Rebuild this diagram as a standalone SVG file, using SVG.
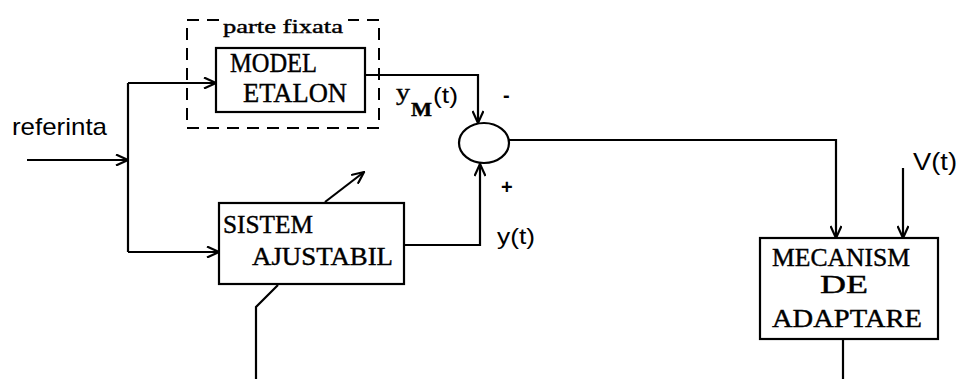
<svg xmlns="http://www.w3.org/2000/svg" width="958" height="379" viewBox="0 0 958 379">
<style>
.ln{fill:none;stroke:#000;stroke-width:2.2}
.box{fill:#fff;stroke:#000;stroke-width:2.2}
.dash{fill:none;stroke:#000;stroke-width:2;stroke-dasharray:12,8}
.serif{font-family:"Liberation Serif","Times New Roman",serif;fill:#000;stroke:#000;stroke-width:0.4}
.sans{font-family:"Liberation Sans",Arial,sans-serif;fill:#000}
</style>
<defs>
<marker id="arr" viewBox="0 0 14 12" refX="13" refY="6" markerWidth="14" markerHeight="12" markerUnits="userSpaceOnUse" orient="auto">
<path d="M1,0.5 L13,6 L1,11.5" fill="none" stroke="#000" stroke-width="2.2"/>
</marker>
</defs>
<rect width="958" height="379" fill="#fff"/>
<g id="connectors">
<path class="ln" d="M27,160 L128,160" marker-end="url(#arr)"/>
<path class="ln" d="M128,83 L128,252"/>
<path class="ln" d="M128,83 L216,83" marker-end="url(#arr)"/>
<path class="ln" d="M128,252 L219,252" marker-end="url(#arr)"/>
<path class="ln" d="M365,75 L478,75 L478,123" marker-end="url(#arr)"/>
<path class="ln" d="M404,245 L480,245 L480,164" marker-end="url(#arr)"/>
<path class="ln" d="M509,140 L836,140 L836,238" marker-end="url(#arr)"/>
<path class="ln" d="M903,168 L903,238" marker-end="url(#arr)"/>
<path class="ln" d="M325,202 L364,172" marker-end="url(#arr)"/>
<path class="ln" d="M278,285 L256,307 L256,379"/>
<path class="ln" d="M843,339 L843,379"/>
</g>
<g id="parte_fixata">
<rect class="dash" x="187" y="20" width="192" height="108"/>
<rect x="220" y="12" width="128" height="16" fill="#fff"/>
<text class="serif" x="223" y="33" font-size="19" textLength="120" lengthAdjust="spacingAndGlyphs">parte fixata</text>
</g>
<g id="model_etalon">
<rect class="box" x="216" y="48" width="149" height="64"/>
<text class="serif" x="230" y="72" font-size="27" textLength="87" lengthAdjust="spacingAndGlyphs">MODEL</text>
<text class="serif" x="243" y="102" font-size="27" textLength="104" lengthAdjust="spacingAndGlyphs">ETALON</text>
</g>
<g id="sumator">
<ellipse class="ln" cx="484" cy="143" rx="25" ry="20"/>
<text class="sans" x="503" y="102" font-size="20" font-weight="bold">-</text>
<text class="sans" x="501" y="194" font-size="20" font-weight="bold">+</text>
</g>
<g id="sistem_ajustabil">
<rect class="box" x="219" y="203" width="185" height="81"/>
<text class="serif" x="223" y="233" font-size="25" textLength="90" lengthAdjust="spacingAndGlyphs">SISTEM</text>
<text class="serif" x="252" y="265" font-size="25" textLength="141" lengthAdjust="spacingAndGlyphs">AJUSTABIL</text>
</g>
<g id="mecanism_adaptare">
<rect class="box" x="760" y="238" width="178" height="101"/>
<text class="serif" x="772" y="266" font-size="25" textLength="138" lengthAdjust="spacingAndGlyphs">MECANISM</text>
<text class="serif" x="820" y="293" font-size="25" textLength="48" lengthAdjust="spacingAndGlyphs">DE</text>
<text class="serif" x="772" y="327" font-size="25" textLength="150" lengthAdjust="spacingAndGlyphs">ADAPTARE</text>
</g>
<g id="labels">
<text class="sans" x="12" y="135" font-size="24" textLength="95" lengthAdjust="spacingAndGlyphs">referinta</text>
<text class="serif" x="396" y="100" font-size="24" textLength="14" lengthAdjust="spacingAndGlyphs">y</text>
<text class="serif" x="411" y="116" font-size="19" font-weight="bold" textLength="21" lengthAdjust="spacingAndGlyphs">M</text>
<text class="sans" x="433" y="103" font-size="22" textLength="25" lengthAdjust="spacingAndGlyphs">(t)</text>
<text class="sans" x="497" y="244" font-size="22" textLength="38" lengthAdjust="spacingAndGlyphs">y(t)</text>
<text class="sans" x="913" y="170" font-size="23" textLength="44" lengthAdjust="spacingAndGlyphs">V(t)</text>
</g>
</svg>
